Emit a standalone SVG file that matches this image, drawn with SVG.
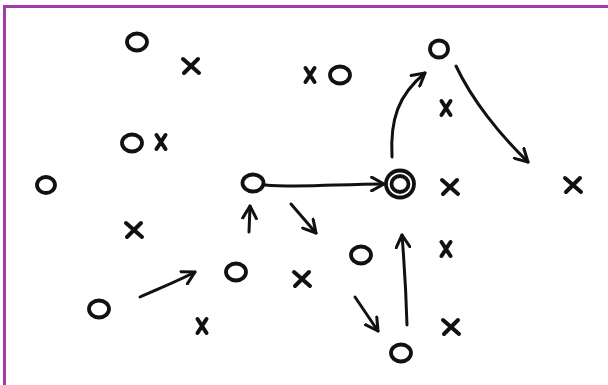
<svg xmlns="http://www.w3.org/2000/svg" width="608" height="385" viewBox="0 0 608 385">
<defs>
<style>
.o{fill:none;stroke:#111;stroke-width:3.8}
.x{fill:none;stroke:#111;stroke-width:4;stroke-linecap:round}
.c{fill:none;stroke:#111;stroke-width:3;stroke-linecap:round}
</style>
<marker id="ah" viewBox="0 0 12 12" refX="10" refY="6" markerWidth="5.5" markerHeight="5.5" markerUnits="strokeWidth" orient="auto">
<path d="M1,1 L10,6 L1,11" fill="none" stroke="#111" stroke-width="2.2" stroke-linecap="round" stroke-linejoin="round"/>
</marker>
<g id="xm"><path class="x" d="M-8,-7 L8,7 M7,-7 L-7,7"/></g>
<g id="xs"><path class="x" d="M-4.5,-7 L4.5,7 M4.5,-7 L-4.5,7"/></g>
</defs>
<rect width="608" height="385" fill="#fff"/>
<path d="M4.5,385 L4.5,6.5 L608,6.5" fill="none" stroke="#a23ca6" stroke-width="3"/>

<g id="o1"><ellipse class="o" cx="137" cy="42" rx="10" ry="8.5"/></g>
<g id="x1"><use href="#xm" x="191" y="66"/></g>
<g id="x2"><use href="#xs" x="310" y="75"/></g>
<g id="o2"><ellipse class="o" cx="340" cy="75" rx="10" ry="8.5"/></g>
<g id="o3"><ellipse class="o" cx="439" cy="49" rx="9" ry="8.5"/></g>
<g id="x3"><use href="#xs" x="446" y="108"/></g>
<g id="o4"><ellipse class="o" cx="132" cy="143" rx="10" ry="8.5"/></g>
<g id="x4"><use href="#xs" x="161" y="142"/></g>
<g id="o5"><ellipse class="o" cx="46" cy="185" rx="9" ry="8"/></g>
<g id="o6"><ellipse class="o" cx="253" cy="183" rx="10.5" ry="8.5"/></g>
<g id="o7"><ellipse class="o" cx="400" cy="184" rx="14" ry="13.5"/><ellipse class="o" cx="400" cy="184" rx="8.5" ry="8"/></g>
<g id="x5"><use href="#xm" x="450" y="187"/></g>
<g id="x6"><use href="#xm" x="573" y="185"/></g>
<g id="x7"><use href="#xm" x="134" y="230"/></g>
<g id="o8"><ellipse class="o" cx="361" cy="255" rx="10" ry="8.5"/></g>
<g id="x8"><use href="#xs" x="446" y="249"/></g>
<g id="o9"><ellipse class="o" cx="236" cy="272" rx="10" ry="8.5"/></g>
<g id="x9"><use href="#xm" x="302" y="279"/></g>
<g id="o10"><ellipse class="o" cx="99" cy="309" rx="10" ry="8.5"/></g>
<g id="x10"><use href="#xs" x="202" y="326"/></g>
<g id="x11"><use href="#xm" x="451" y="327"/></g>
<g id="o11"><ellipse class="o" cx="401" cy="353" rx="10" ry="8.5"/></g>

<g id="connectors">
<path class="c" marker-end="url(#ah)" d="M265,185 C300,188 340,184 384,184"/>
<path class="c" marker-end="url(#ah)" d="M249,232 L250,206"/>
<path class="c" marker-end="url(#ah)" d="M291,204 L316,233"/>
<path class="c" marker-end="url(#ah)" d="M140,297 C160,288 178,281 195,272"/>
<path class="c" marker-end="url(#ah)" d="M355,297 L378,331"/>
<path class="c" marker-end="url(#ah)" d="M407,325 C406,290 404,260 402,235"/>
<path class="c" marker-end="url(#ah)" d="M392,157 C390,120 398,95 425,73"/>
<path class="c" marker-end="url(#ah)" d="M456,66 C472,100 500,135 528,162"/>
</g>
</svg>
